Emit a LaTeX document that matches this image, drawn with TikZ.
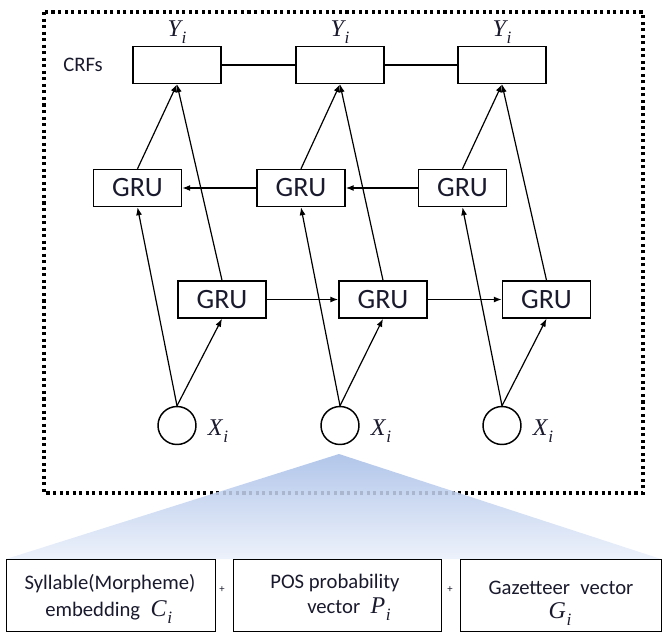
\documentclass[tikz,border=0pt]{standalone}
\usepackage{fontspec}
\setmainfont{Carlito}
\newfontfamily\symfont{Liberation Serif}
\usetikzlibrary{arrows.meta}
\definecolor{ink}{RGB}{26,26,46}
\definecolor{fantop}{RGB}{178,198,234}
\definecolor{fanbot}{RGB}{237,242,251}
\definecolor{fadedot}{RGB}{170,182,206}
% italic symbol with a lowered index, at label size
\newcommand{\symlbl}[2]{\mbox{\symfont\itshape\fontsize{18}{20}\selectfont #1\kern0.5pt\raisebox{-0.32em}{\fontsize{13}{14}\selectfont #2}}}
\begin{document}
\begin{tikzpicture}[x=0.75pt,y=-0.75pt,
  box/.style={draw, line width=1.1pt, inner sep=0pt, minimum width=88*0.75pt, minimum height=37*0.75pt},
  grubox/.style={box, text=ink, font=\fontsize{21}{24}\selectfont},
  inbox/.style={draw, line width=1.1pt, inner sep=0pt, minimum size=38*0.75pt, circle},
  link/.style={line width=0.9pt, -{Latex[length=6pt,width=4.5pt]}},
  plain/.style={line width=0.9pt},
  frame/.style={line width=2.3pt, dash pattern=on 2.3pt off 2.6pt},
  lbl/.style={text=ink, inner sep=0pt, font=\fontsize{15.5}{18}\selectfont},
  mlbl/.style={text=ink, inner sep=0pt},
  featbox/.style={draw, line width=1.1pt, inner sep=0pt, anchor=north west}]
\useasboundingbox (0,0) rectangle (663,632);

% dotted frame round the network
\draw[frame] (44,12) rectangle (643,493);

% CRF layer
\node[lbl] (crflabel) at (83,65) {CRFs};
\node[box] (c1) at (177,65) {};
\node[box] (c2) at (340,65) {};
\node[box] (c3) at (502,65) {};
\node[mlbl] (y1) at (177,32) {\symlbl{Y}{i}};
\node[mlbl] (y2) at (340,32) {\symlbl{Y}{i}};
\node[mlbl] (y3) at (502,32) {\symlbl{Y}{i}};
\draw[plain] (c1.east) -- (c2.west);
\draw[plain] (c2.east) -- (c3.west);

% backward GRU row
\node[grubox] (b1) at (137.5,188) {GRU};
\node[grubox] (b2) at (301,188) {GRU};
\node[grubox] (b3) at (462.5,188) {GRU};
\draw[link] (b3.west) -- (b2.east);
\draw[link] (b2.west) -- (b1.east);

% forward GRU row
\node[grubox] (f1) at (222,299.5) {GRU};
\node[grubox] (f2) at (383,299.5) {GRU};
\node[grubox] (f3) at (546.5,299.5) {GRU};
\draw[link] (f1.east) -- (f2.west);
\draw[link] (f2.east) -- (f3.west);

% inputs
\node[inbox] (x1) at (177,425.5) {};
\node[inbox] (x2) at (340,425.5) {};
\node[inbox] (x3) at (502,425.5) {};
\node[mlbl] (xl1) at (218,431) {\symlbl{X}{i}};
\node[mlbl] (xl2) at (381,431) {\symlbl{X}{i}};
\node[mlbl] (xl3) at (543,431) {\symlbl{X}{i}};

% inputs to both GRU rows, both rows to the CRFs
\foreach \k in {1,2,3} {
  \draw[link] (x\k.north) -- (f\k.south);
  \draw[link] (x\k.north) -- (b\k.south);
  \draw[link] (f\k.north) -- (c\k.south);
  \draw[link] (b\k.north) -- (c\k.south);
}

% fan that opens the middle input into its parts
\coordinate (apex) at (339,454);
\coordinate (fanL) at (6,559);
\coordinate (fanR) at (661,559);
\shade[top color=fantop, bottom color=fanbot] (apex) -- (fanR) -- (fanL) -- cycle;
\begin{scope}
  \clip (apex) -- (fanR) -- (fanL) -- cycle;
  \draw[frame, draw=fadedot] (44,12) rectangle (643,493);
\end{scope}

% feature boxes
\node[featbox, minimum width=209*0.75pt, minimum height=72*0.75pt] (p1) at (6,559) {};
\node[featbox, minimum width=208*0.75pt, minimum height=72*0.75pt] (p2) at (233,559) {};
\node[featbox, minimum width=201*0.75pt, minimum height=72*0.75pt] (p3) at (460,559) {};
\node[lbl] (p1a) at (110,584) {Syllable(Morpheme)};
\node[lbl, anchor=west] (p1b) at (45,612) {embedding\enspace\symlbl{C}{i}};
\node[lbl] (p2a) at (335,583) {POS probability};
\node[lbl, anchor=west] (p2b) at (307,609) {vector\enspace\symlbl{P}{i}};
\node[lbl] (p3a) at (561,588) {Gazetteer\enspace vector};
\node[mlbl] (p3b) at (560,614) {\symlbl{G}{i}};
\node[text=ink, inner sep=0pt, font=\fontsize{8}{9}\selectfont] (plus1) at (222,590) {+};
\node[text=ink, inner sep=0pt, font=\fontsize{8}{9}\selectfont] (plus2) at (450,590) {+};
\end{tikzpicture}
\end{document}
